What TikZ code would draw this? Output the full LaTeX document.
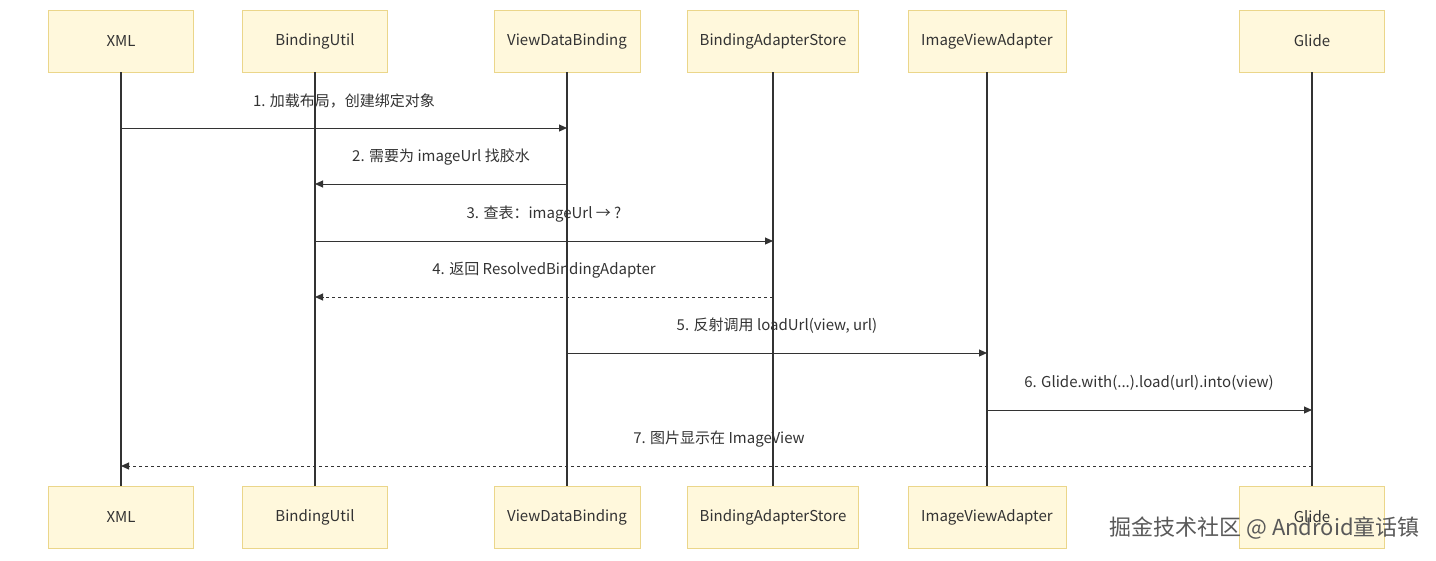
\documentclass[tikz,border=0pt]{standalone}
\usepackage{fontspec}
\setmainfont{Noto Sans CJK SC}
\usetikzlibrary{arrows.meta}
\definecolor{boxfill}{HTML}{FFF8DC}
\definecolor{boxdraw}{HTML}{EBD68A}
\definecolor{ln}{HTML}{333333}
\begin{document}
\begin{tikzpicture}[x=1pt,y=-1pt,
  actor/.style={draw=boxdraw,fill=boxfill,minimum height=62pt,inner sep=0pt,font=\fontsize{15}{17}\selectfont,text=ln},
  life/.style={draw=ln,line width=1.2pt},
  msg/.style={draw=ln,line width=1pt,-{Triangle[length=8pt,width=7pt]}},
  reply/.style={msg,dashed,dash pattern=on 3pt off 3pt},
  lbl/.style={font=\fontsize{15}{17}\selectfont,text=ln}]
\useasboundingbox (0,0) rectangle (1436,560);
\foreach \n/\x/\w/\t in {a/121/145/XML,b/315/145/BindingUtil,c/567/146/ViewDataBinding,d/773/171/BindingAdapterStore,e/987/158/ImageViewAdapter,f/1312/145/Glide}{
  \node[actor,minimum width=\w pt] (\n top) at (\x,41) {\t};
  \node[actor,minimum width=\w pt] (\n bot) at (\x,517) {\t};
  \draw[life] (\n top.south) -- (\n bot.north);
}
\foreach \n/\x in {a/121,b/315,c/567,d/773,e/987,f/1312}{
  \foreach \k/\y in {1/128,2/184,3/241,4/297,5/353,6/410,7/466}{
    \coordinate (\n\k) at (\x,\y);
  }
}
\draw[msg] (a1) -- (c1); \node[lbl] at (344,101) {1. 加载布局，创建绑定对象};
\draw[msg] (c2) -- (b2); \node[lbl] at (441,157) {2. 需要为 imageUrl 找胶水};
\draw[msg] (b3) -- (d3); \node[lbl] at (544,214) {3. 查表：imageUrl → ?};
\draw[reply] (d4) -- (b4); \node[lbl] at (544,270) {4. 返回 ResolvedBindingAdapter};
\draw[msg] (c5) -- (e5); \node[lbl] at (777,326) {5. 反射调用 loadUrl(view, url)};
\draw[msg] (e6) -- (f6); \node[lbl] at (1149,383) {6. Glide.with(...).load(url).into(view)};
\draw[reply] (f7) -- (a7); \node[lbl] at (719,439) {7. 图片显示在 ImageView};
\node[font=\fontsize{22}{24}\selectfont,text=black!65,anchor=east,inner sep=0pt] (wm) at (1420,528) {掘金技术社区 @ Android童话镇};
\end{tikzpicture}
\end{document}
